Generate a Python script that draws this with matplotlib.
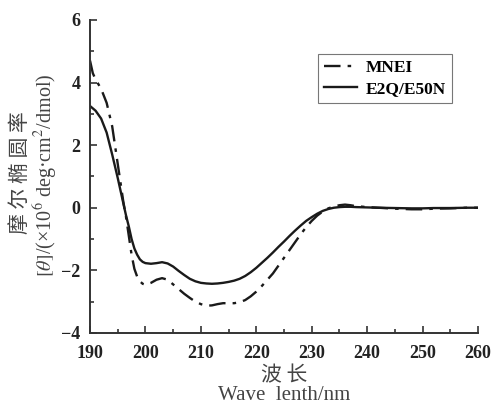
import numpy as np
import matplotlib
matplotlib.use('Agg')
import matplotlib.pyplot as plt
from matplotlib.ticker import MultipleLocator

# Dati (lunghezza d'onda in nm, ellitticità x10^6)
wl_mnei = [190, 190.5, 191, 192, 193, 194, 195, 196, 196.5, 197, 197.5, 198, 198.5, 199, 199.5, 200,
           201, 202, 203, 204, 205, 206, 207, 208, 209, 210, 211, 212, 213, 214, 215, 216, 217,
           218, 219, 220, 221, 222, 223, 224, 225, 226, 227, 228, 229, 230, 231, 232, 233, 234,
           235, 236, 237, 238, 240, 242, 245, 248, 250, 252, 255, 258, 260]
mnei = [4.7, 4.3, 4.1, 3.8, 3.35, 2.6, 1.4, 0.2, -0.3, -0.9, -1.5, -1.95, -2.2, -2.35, -2.43, -2.46,
        -2.4, -2.3, -2.25, -2.3, -2.45, -2.6, -2.75, -2.88, -3.0, -3.08, -3.13, -3.12, -3.08, -3.05, -3.05, -3.05, -3.02,
        -2.95, -2.83, -2.68, -2.5, -2.3, -2.1, -1.85, -1.6, -1.35, -1.1, -0.85, -0.62, -0.42, -0.25, -0.12, -0.02, 0.04,
        0.08, 0.1, 0.08, 0.05, 0.02, 0.0, -0.03, -0.05, -0.05, -0.03, -0.02, 0.0, 0.0]

wl_e2q = [190, 191, 192, 193, 194, 195, 196, 196.5, 197, 197.5, 198, 198.5, 199, 199.5, 200,
          201, 202, 203, 204, 205, 206, 207, 208, 209, 210, 211, 212, 213, 214, 215, 216, 217,
          218, 219, 220, 221, 222, 223, 224, 225, 226, 227, 228, 229, 230, 231, 232, 233, 234,
          235, 236, 237, 238, 240, 242, 245, 248, 250, 252, 255, 258, 260]
e2q = [3.25, 3.1, 2.85, 2.4, 1.7, 0.95, 0.15, -0.25, -0.6, -1.0, -1.3, -1.5, -1.65, -1.73, -1.77,
       -1.79, -1.77, -1.74, -1.78, -1.88, -2.02, -2.15, -2.27, -2.35, -2.4, -2.42, -2.43, -2.42, -2.4, -2.37, -2.33, -2.27,
       -2.18, -2.06, -1.92, -1.76, -1.6, -1.43, -1.25, -1.08, -0.9, -0.73, -0.57, -0.42, -0.3, -0.19, -0.1, -0.04, 0.0,
       0.02, 0.03, 0.03, 0.02, 0.01, 0.0, -0.01, -0.02, -0.02, -0.01, -0.01, 0.0, 0.0]

plt.rcParams['font.family'] = ['Liberation Serif', 'Noto Sans CJK SC']
plt.rcParams['mathtext.fontset'] = 'stix'

fig = plt.figure(figsize=(4.93, 4.07), dpi=100)
ax = fig.add_axes([0.1826, 0.182, 0.787, 0.769])

ax.plot(wl_mnei, mnei, color='#1a1a1a', lw=1.7, linestyle=(0, (7, 3, 1.5, 3)), label='MNEI')
ax.plot(wl_e2q, e2q, color='#1a1a1a', lw=1.7, label='E2Q/E50N')

ax.set_xlim(190, 260)
ax.set_ylim(-4, 6)
ax.xaxis.set_major_locator(MultipleLocator(10))
ax.xaxis.set_minor_locator(MultipleLocator(5))
ax.yaxis.set_major_locator(MultipleLocator(2))
ax.yaxis.set_minor_locator(MultipleLocator(1))
ax.tick_params(which='both', direction='in', width=1.2, colors='#333333', labelcolor='#222222')
ax.tick_params(which='major', length=5, labelsize=13)
ax.tick_params(which='minor', length=3)
ax.tick_params(axis='x', pad=9)
ax.tick_params(axis='y', pad=7)
for lab in ax.get_xticklabels() + ax.get_yticklabels():
    lab.set_fontweight('bold')
for s in ['top', 'right']:
    ax.spines[s].set_visible(False)
for s in ['left', 'bottom']:
    ax.spines[s].set_linewidth(1.4)
    ax.spines[s].set_color('#333333')

# Etichette degli assi (due righe, cinese + inglese)
fig.text(0.577, 0.079, '波 长', ha='center', va='center', fontsize=15, color='#444444',
         family=['Noto Sans CJK SC'])
fig.text(0.577, 0.029, 'Wave  lenth/nm', ha='center', va='center', fontsize=15, color='#444444')
fig.text(0.040, 0.575, '摩 尔 椭 圆 率', ha='center', va='center', rotation=90, fontsize=15,
         color='#444444', family=['Noto Sans CJK SC'])
fig.text(0.093, 0.57, '$[\\theta]$/(×10$^6$ deg·cm$^2$/dmol)', ha='center', va='center',
         rotation=90, fontsize=14.5, color='#444444')

leg = ax.legend(loc='upper right', bbox_to_anchor=(0.933, 0.891), frameon=True, fancybox=False,
                edgecolor='#555555', handlelength=1.9, handletextpad=0.5, borderpad=0.35,
                labelspacing=0.25, borderaxespad=0,
                prop={'weight': 'bold', 'size': 12.5, 'family': 'Liberation Serif'})
leg.get_frame().set_linewidth(0.8)

fig.savefig('out.png', dpi=100)
